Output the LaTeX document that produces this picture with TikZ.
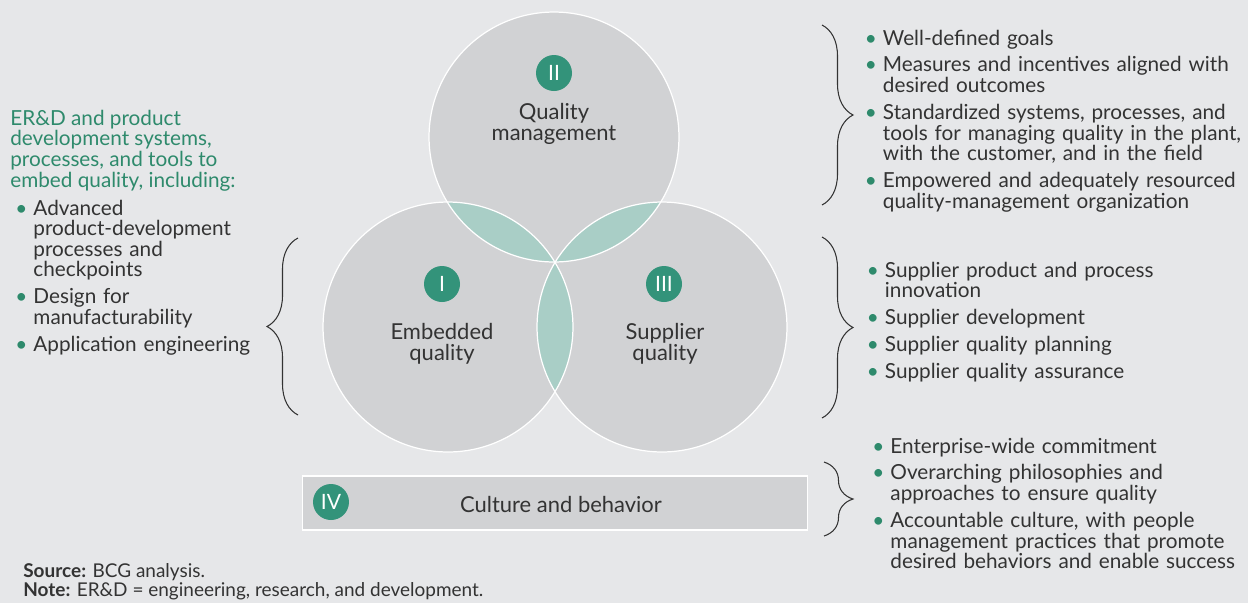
\documentclass[tikz,border=0pt]{standalone}
\usepackage{fontspec}
\setmainfont{Lato}
\usepackage{tikz}
\usetikzlibrary{positioning}
\usetikzlibrary{decorations.pathreplacing}

\definecolor{bgGray}{HTML}{E6E7E9}
\definecolor{circleGray}{HTML}{D1D2D4}
\definecolor{overlapTeal}{HTML}{A9CEC6}
\definecolor{badgeGreen}{HTML}{33937A}
\definecolor{leadGreen}{HTML}{2E8A6C}
\definecolor{textGray}{HTML}{333333}

\newcommand{\nl}{\hfil\break}
\newcommand{\bitem}[1]{\hangindent=10.3pt\hangafter=1\noindent
  \makebox[10.3pt][l]{\textcolor{leadGreen}{\textbullet}}#1\par\parskip=3.6pt}

\tikzstyle{area}=[circle, fill=circleGray, minimum size=5cm, inner sep=0pt]
\tikzstyle{rim}=[draw=white, line width=0.7pt]
\tikzstyle{badge}=[circle, fill=badgeGreen, text=white, minimum size=0.72cm, inner sep=0pt, font=\fontsize{12}{12}\selectfont]
\tikzstyle{title}=[align=center, anchor=base, inner sep=0pt, text=textGray, font=\fontsize{12.5}{11.9}\selectfont]
\tikzstyle{list}=[anchor=base west, inner sep=0pt, align=left, text=textGray, font=\fontsize{11.8}{11.75}\selectfont]
\tikzstyle{curly}=[decorate, decoration={brace, amplitude=0.62cm}, draw=textGray, line width=0.6pt]

\begin{document}
\begin{tikzpicture}[x=0.02cm, y=-0.02cm]
  \fill[bgGray] (0,0) rectangle (1248,603);
  \useasboundingbox (0,0) rectangle (1248,603);

  % the three circles
  \node[area] (qm) at (554,137) {};
  \node[area] (emb) at (448,327) {};
  \node[area] (sup) at (662,327) {};

  \begin{scope}
    \clip (qm.center) circle (2.5cm);
    \fill[overlapTeal] (emb.center) circle (2.5cm);
    \fill[overlapTeal] (sup.center) circle (2.5cm);
  \end{scope}
  \begin{scope}
    \clip (emb.center) circle (2.5cm);
    \fill[overlapTeal] (sup.center) circle (2.5cm);
  \end{scope}
  \draw[rim] (qm.center) circle (2.5cm);
  \draw[rim] (emb.center) circle (2.5cm);
  \draw[rim] (sup.center) circle (2.5cm);

  \node[badge] (b2) at (554,73) {II};
  \node[badge] (b1) at (442,284) {I};
  \node[badge] (b3) at (664,284) {III};
  \node[title] (qmtext) at (554,140) {Quality\\management};
  \node[title] (embtext) at (442,360) {Embedded\\quality};
  \node[title] (suptext) at (665,360) {Supplier\\quality};

  % culture bar
  \node[rectangle, fill=circleGray, rim, minimum width=10.1cm, minimum height=1.08cm, inner sep=0pt] (cult) at (555,503) {};
  \node[badge] (b4) at (331,502) {IV};
  \node[title] (culttext) at (561,512) {Culture and behavior};

  % braces
  \coordinate (qmtop) at (822,25);
  \coordinate (qmbot) at (822,205);
  \coordinate (suptop) at (822,237);
  \coordinate (supbot) at (822,418);
  \coordinate (culttop) at (824,462);
  \coordinate (cultbot) at (824,536);
  \coordinate (embtop) at (298,238);
  \coordinate (embbot) at (298,415);
  \draw[curly] (qmtop) -- (qmbot);
  \draw[curly] (suptop) -- (supbot);
  \draw[curly, decoration={amplitude=0.58cm}] (culttop) -- (cultbot);
  \draw[curly] (embbot) -- (embtop);

  % left text
  \node[list, text=leadGreen] (lead) at (10,187) {ER\&D and product\\development systems,\\processes, and tools to\\embed quality, including:};
  \node[list, text width=5.4cm] (emblist) at (15,215) {%
    \bitem{Advanced\nl product-development\nl processes and\nl checkpoints}
    \bitem{Design for\nl manufacturability}
    \bitem{Application engineering}};

  % right text
  \node[list, text width=8cm] (qmlist) at (864.5,45) {%
    \bitem{Well-defined goals}
    \bitem{Measures and incentives aligned with\nl desired outcomes}
    \bitem{Standardized systems, processes, and\nl tools for managing quality in the plant,\nl with the customer, and in the field}
    \bitem{Empowered and adequately resourced\nl quality-management organization}};
  \node[list, text width=8cm] (suplist) at (866.5,277) {%
    \bitem{Supplier product and process\nl innovation}
    \bitem{Supplier development}
    \bitem{Supplier quality planning}
    \bitem{Supplier quality assurance}};
  \node[list, text width=8cm] (cultlist) at (872,453) {%
    \bitem{Enterprise-wide commitment}
    \bitem{Overarching philosophies and\nl approaches to ensure quality}
    \bitem{Accountable culture, with people\nl management practices that promote\nl desired behaviors and enable success}};

  % footnote
  \node[list, font=\fontsize{10.8}{10.3}\selectfont] (source) at (23,596) {\textbf{Source:} BCG analysis.\\\textbf{Note:} ER\&D = engineering, research, and development.};
\end{tikzpicture}
\end{document}
